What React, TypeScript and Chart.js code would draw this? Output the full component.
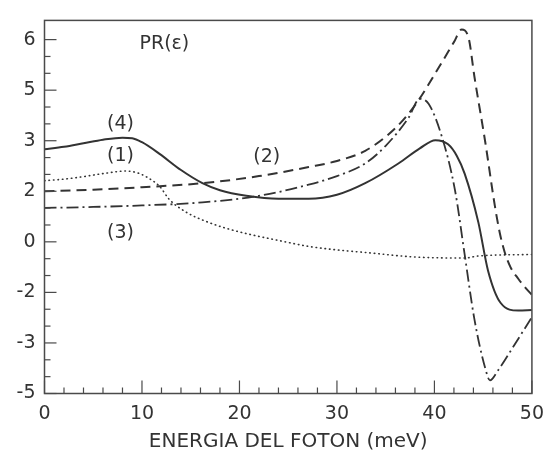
import React, { useEffect, useRef } from "react";
import { Chart, registerables } from "chart.js";

Chart.register(...registerables);

// Tick labels (printed on the original figure, evenly spaced on the axis)
const xTickLabels = ["0", "10", "20", "30", "40", "50"];
const yTickLabels = ["-5", "-3", "-2", "0", "2", "3", "5", "6"];
const xAxisTitle = "ENERGIA DEL FOTON (meV)";

// Curve (4) solid – values in axis position units (0 = "-5" tick ... 7 = "6" tick)
const curve4X = [0, 2, 4, 6, 8, 9, 10, 11.8, 14, 16.2, 18, 20.7, 24, 27.1, 30, 32.9, 36.3, 38.5, 40.1, 41.4, 42.3, 43.1, 44.5, 45.5, 46.8, 48.6, 50];
const curve4Y = [4.83, 4.88, 4.95, 5.02, 5.06, 5.05, 4.97, 4.74, 4.42, 4.16, 4.02, 3.91, 3.85, 3.85, 3.93, 4.16, 4.55, 4.85, 5.01, 4.93, 4.7, 4.35, 3.39, 2.43, 1.79, 1.64, 1.65];

// Curve (2) dashed
const curve2X = [0, 5, 10, 16.2, 22, 27.1, 30, 32.9, 36, 38, 40.7, 42, 42.8, 43.5, 44.1, 45.2, 46.2, 46.7, 47.2, 47.8, 48.6, 49.3, 50];
const curve2Y = [4.0, 4.03, 4.08, 4.16, 4.3, 4.48, 4.6, 4.8, 5.25, 5.7, 6.53, 6.95, 7.2, 7.04, 6.27, 4.99, 3.71, 3.18, 2.8, 2.5, 2.27, 2.1, 1.95];

// Curve (3) dash-dot
const curve3X = [0, 5, 10, 16.2, 22, 27.1, 30, 32.9, 35, 37.3, 38.5, 39.4, 40.7, 42.1, 43.1, 44.1, 45.2, 45.7, 46.5, 48.2, 50];
const curve3Y = [3.67, 3.69, 3.72, 3.78, 3.91, 4.13, 4.3, 4.55, 4.9, 5.44, 5.83, 5.73, 5.12, 4.03, 2.75, 1.47, 0.51, 0.26, 0.45, 0.96, 1.51];

// Curve (1) dotted
const curve1X = [0, 2, 4, 6, 8.4, 9.75, 11, 11.8, 12.8, 14.5, 16.5, 18.6, 21, 23.7, 27.1, 30, 32.9, 38, 43.1, 44.5, 50];
const curve1Y = [4.21, 4.24, 4.29, 4.35, 4.4, 4.35, 4.22, 4.1, 3.84, 3.59, 3.41, 3.27, 3.15, 3.04, 2.91, 2.84, 2.79, 2.7, 2.68, 2.72, 2.75];

// In-plot labels (data coordinates)
const noteTexts = ["PR(\u03B5)", "(4)", "(1)", "(3)", "(2)"];
const noteX = [12.3, 7.8, 7.8, 7.8, 22.8];
const noteY = [6.91, 5.33, 4.69, 3.17, 4.67];

const INK = "#333333";
const FONT = "'DejaVu Sans', sans-serif";

const toPts = (xs: number[], ys: number[]) => xs.map((x, i) => ({ x, y: ys[i] }));

const framePlugin = {
  id: "frameTicks",
  afterDatasetsDraw(chart: any) {
    const { ctx, chartArea: a, scales } = chart;
    const xs = scales.x;
    const ys = scales.y;
    ctx.save();
    ctx.strokeStyle = "#4a4a4a";
    ctx.lineWidth = 1.5;
    ctx.strokeRect(a.left, a.top, a.right - a.left, a.bottom - a.top);
    ctx.lineWidth = 1.2;
    for (let v = 0; v <= 50; v += 2) {
      const px = xs.getPixelForValue(v);
      const len = v % 10 === 0 ? 13 : 6;
      ctx.beginPath();
      ctx.moveTo(px, a.bottom);
      ctx.lineTo(px, a.bottom - len);
      ctx.stroke();
    }
    for (let i = 0; i <= (yTickLabels.length - 1) * 3; i++) {
      const py = ys.getPixelForValue(i / 3);
      const len = i % 3 === 0 ? 12 : 6;
      ctx.beginPath();
      ctx.moveTo(a.left, py);
      ctx.lineTo(a.left + len, py);
      ctx.stroke();
    }
    // notes
    ctx.fillStyle = INK;
    ctx.font = `19px ${FONT}`;
    ctx.textAlign = "center";
    ctx.textBaseline = "middle";
    noteTexts.forEach((t, i) => {
      ctx.fillText(t, xs.getPixelForValue(noteX[i]), ys.getPixelForValue(noteY[i]));
    });
    ctx.restore();
  },
};

export default function App() {
  const ref = useRef<HTMLCanvasElement | null>(null);
  useEffect(() => {
    if (!ref.current) return;
    const common = {
      borderColor: INK,
      pointRadius: 0,
      fill: false,
      cubicInterpolationMode: "monotone" as const,
    };
    const chart = new Chart(ref.current, {
      type: "line",
      data: {
        datasets: [
          { ...common, label: "(4)", data: toPts(curve4X, curve4Y), borderWidth: 2 },
          { ...common, label: "(2)", data: toPts(curve2X, curve2Y), borderWidth: 2, borderDash: [10, 6] },
          { ...common, label: "(3)", data: toPts(curve3X, curve3Y), borderWidth: 1.8, borderDash: [12, 4, 2, 4] },
          { ...common, label: "(1)", data: toPts(curve1X, curve1Y), borderWidth: 1.6, borderDash: [0.5, 4], borderCapStyle: "round" },
        ],
      },
      options: {
        animation: false,
        responsive: false,
        layout: { padding: { top: 9, right: 19, left: 0, bottom: 0 } },
        plugins: { legend: { display: false }, tooltip: { enabled: false } },
        scales: {
          x: {
            type: "linear",
            min: 0,
            max: 50,
            afterBuildTicks: (s: any) => {
              s.ticks = xTickLabels.map((_, i) => ({ value: i * 10 }));
            },
            afterFit: (s: any) => {
              s.height = 63.5;
            },
            ticks: {
              padding: 9,
              color: INK,
              font: { family: FONT, size: 19 },
              maxRotation: 0,
              callback: (v: any, i: number) => xTickLabels[i],
            },
            grid: { display: false, drawTicks: false },
            border: { display: false },
            title: {
              display: true,
              text: xAxisTitle,
              color: INK,
              font: { family: FONT, size: 20 },
              padding: { top: 0, bottom: 3 },
            },
          },
          y: {
            type: "linear",
            min: 0,
            max: 7.38,
            afterBuildTicks: (s: any) => {
              s.ticks = yTickLabels.map((_, i) => ({ value: i }));
            },
            afterFit: (s: any) => {
              s.width = 44.5;
            },
            ticks: {
              padding: 9,
              color: INK,
              font: { family: FONT, size: 19 },
              callback: (v: any, i: number) => yTickLabels[i],
            },
            grid: { display: false, drawTicks: false },
            border: { display: false },
          },
        },
      },
      plugins: [framePlugin],
    });
    return () => chart.destroy();
  }, []);
  return (
    <div style={{ position: "absolute", left: 0, top: 0, width: 553, height: 457, background: "#fff" }}>
      <canvas ref={ref} width={553} height={457} style={{ display: "block" }} />
    </div>
  );
}
